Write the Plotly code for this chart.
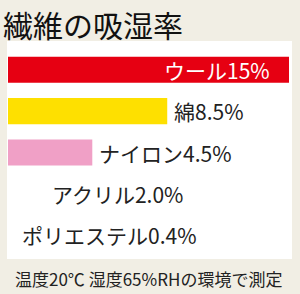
import plotly.graph_objects as go

categories = ["ウール", "綿", "ナイロン", "アクリル", "ポリエステル"]
values = [15, 8.5, 4.5, 2.0, 0.4]
value_labels = ["15%", "8.5%", "4.5%", "2.0%", "0.4%"]
colors = ["#E60012", "#FEE000", "#F0A0C6", "#FFFFFF", "#FFFFFF"]
title_text = "繊維の吸湿率"
footer_text = "温度20℃ 湿度65%RHの環境で測定"

FONT = "Noto Sans CJK JP"

# plot area in pixels
L, R, T, B = 8, 289, 49, 256
def px(x):
    return (x - L) / (R - L)
def py(y):
    return (B - y) / (B - T)

fig = go.Figure()
fig.add_trace(go.Bar(
    x=values, y=categories, orientation="h",
    marker=dict(color=colors, line=dict(width=0)),
    width=0.63, hoverinfo="skip",
))

annotations = []
for i, (c, v, lab) in enumerate(zip(categories, values, value_labels)):
    inside = i == 0
    annotations.append(dict(
        x=v, y=c, xref="x", yref="y",
        text=c + lab, showarrow=False,
        xanchor="right" if inside else "left",
        xshift=-17 if inside else 5,
        font=dict(family=FONT, size=21, color="#FFFFFF" if inside else "#222222"),
    ))
annotations.append(dict(
    x=px(1), y=py(0), xref="paper", yref="paper", xanchor="left", yanchor="top",
    text=title_text, showarrow=False,
    font=dict(family=FONT, size=30, color="#111111"),
))
annotations.append(dict(
    x=px(148.5), y=py(278), xref="paper", yref="paper", xanchor="center", yanchor="middle",
    text=footer_text, showarrow=False,
    font=dict(family=FONT, size=17, color="#222222"),
))

fig.update_layout(
    width=300, height=294,
    margin=dict(l=L, r=300 - R, t=T, b=294 - B),
    paper_bgcolor="#F1EEE4", plot_bgcolor="rgba(0,0,0,0)",
    showlegend=False,
    xaxis=dict(range=[0, 15], visible=False, fixedrange=True),
    yaxis=dict(visible=False, range=[4.5, -0.5], fixedrange=True),
    annotations=annotations,
    shapes=[dict(
        type="rect", xref="paper", yref="paper", layer="below",
        x0=px(7), x1=px(292), y0=py(259), y1=py(41),
        fillcolor="#FFFFFF", line=dict(width=0),
    )],
)

fig.write_html("out.html", config={"displayModeBar": False})
